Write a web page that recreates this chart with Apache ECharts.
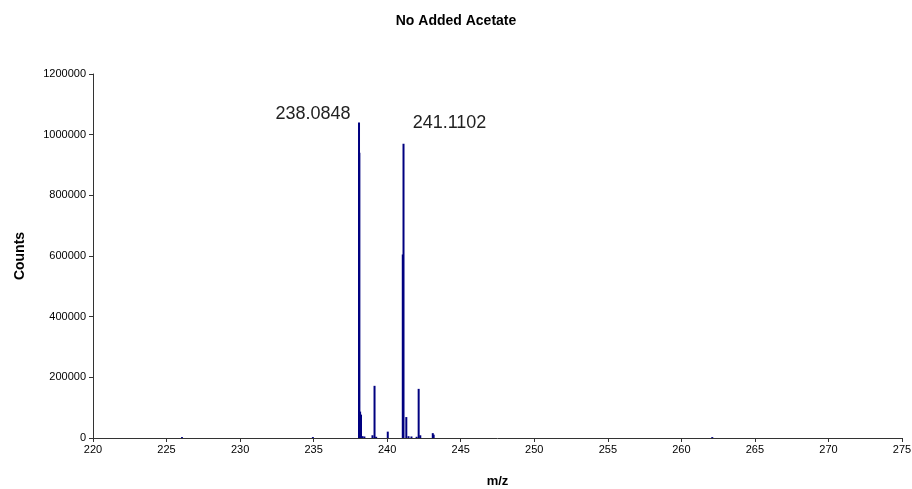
<!DOCTYPE html>
<html>
<head>
<meta charset="utf-8">
<script src="https://cdn.jsdelivr.net/npm/echarts@6/dist/echarts.min.js"></script>
<style>
  html, body { margin: 0; padding: 0; background: #fff; }
  #chart { width: 912px; height: 489px; }
</style>
</head>
<body>
<div id="chart"></div>
<script>
// Mass spectrum: m/z positions and their ion counts
const mzValues = [
  226.05, 234.95,
  238.0848, 238.11, 238.16, 238.22, 238.32, 238.45, 239.0, 239.14, 239.25,
  240.04, 241.06, 241.1102, 241.3, 241.45, 241.65, 242.0, 242.14, 242.25,
  243.1, 243.16, 262.1
];
const countValues = [
  3000, 3000,
  1040000, 940000, 87000, 77000, 6000, 5000, 9000, 172000, 4000,
  21000, 605000, 970000, 69000, 6000, 5000, 4000, 162000, 9000,
  16000, 11000, 3000
];
// Peaks that carry an m/z annotation
const labelledPeaks = [238.0848, 241.1102];

const xTicks = { min: 220, max: 275, step: 5 };
const yTicks = { min: 0, max: 1200000, step: 200000 };

const font = 'Liberation Sans, Arial, sans-serif';

const seriesData = mzValues.map((mz, i) => {
  const item = { value: [mz, countValues[i]] };
  if (mz === labelledPeaks[0]) {
    item.label = { show: true, position: 'top', distance: 0, offset: [-46, 0] };
  } else if (mz === labelledPeaks[1]) {
    item.label = { show: true, position: 'top', distance: 0, offset: [46, -12] };
  }
  return item;
});

const chart = echarts.init(document.getElementById('chart'), null, { renderer: 'canvas' });
chart.setOption({
  animation: false,
  backgroundColor: '#ffffff',
  title: {
    text: 'No Added Acetate',
    left: 'center',
    top: 9,
    textStyle: { fontFamily: font, fontSize: 14, fontWeight: 'bold', color: '#000' }
  },
  grid: {
    left: 93, right: 10, top: 74, bottom: 51,
    containLabel: false,
    outerBoundsMode: 'none'
  },
  xAxis: {
    type: 'value',
    min: xTicks.min,
    max: xTicks.max,
    interval: xTicks.step,
    name: 'm/z',
    nameLocation: 'middle',
    nameGap: 37,
    nameTextStyle: { fontFamily: font, fontSize: 13, fontWeight: 'bold', color: '#000' },
    axisLine: { lineStyle: { color: '#333', width: 1 } },
    axisTick: { show: true, length: 4, lineStyle: { color: '#333' } },
    axisLabel: { fontFamily: font, fontSize: 11, color: '#000', margin: 6 },
    splitLine: { show: false }
  },
  yAxis: {
    type: 'value',
    min: yTicks.min,
    max: yTicks.max,
    interval: yTicks.step,
    name: 'Counts',
    nameLocation: 'middle',
    nameGap: 66,
    nameRotate: 90,
    nameTextStyle: { fontFamily: font, fontSize: 14, fontWeight: 'bold', color: '#000' },
    axisLine: { show: true, lineStyle: { color: '#333', width: 1 } },
    axisTick: { show: true, length: 4, lineStyle: { color: '#333' } },
    axisLabel: {
      fontFamily: font, fontSize: 11, color: '#000', margin: 7,
      formatter: v => String(v)
    },
    splitLine: { show: false }
  },
  series: [{
    type: 'bar',
    data: seriesData,
    barWidth: 2,
    barGap: '-100%',
    itemStyle: { color: '#000080' },
    label: {
      show: false,
      fontFamily: font,
      fontSize: 18,
      color: '#222',
      formatter: p => p.value[0].toFixed(4)
    }
  }]
});
</script>
</body>
</html>
